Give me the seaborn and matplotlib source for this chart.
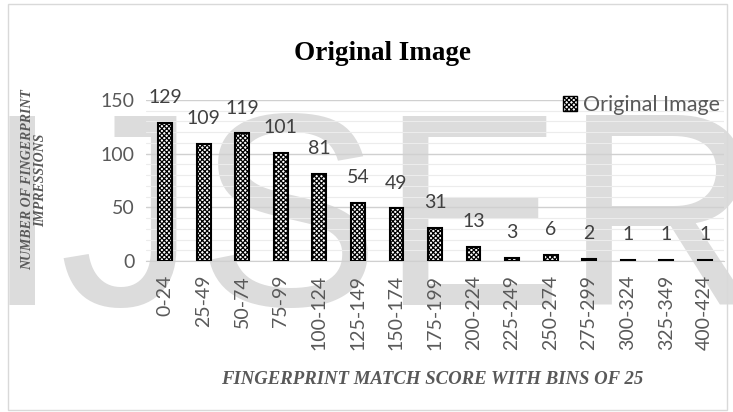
import matplotlib
matplotlib.use('Agg')
import matplotlib.pyplot as plt
from matplotlib.patches import Patch, Rectangle
from matplotlib.ticker import MultipleLocator
import pandas as pd
import seaborn as sns

# data
bins = ['0-24', '25-49', '50-74', '75-99', '100-124', '125-149', '150-174',
        '175-199', '200-224', '225-249', '250-274', '275-299', '300-324',
        '325-349', '400-424']
counts = [129, 109, 119, 101, 81, 54, 49, 31, 13, 3, 6, 2, 1, 1, 1]
series = 'Original Image'

df = pd.DataFrame({'bin': bins, 'count': counts, 'series': series})

sns.set_style('white')
plt.rcParams['font.family'] = ['Lato', 'DejaVu Sans']
plt.rcParams['hatch.linewidth'] = 0.9
plt.rcParams['hatch.color'] = 'black'

grey = '#595959'
hatch = 'xxxxxxx'

fig = plt.figure(figsize=(7.33, 4.12), dpi=100)

# watermark behind the plot
fig.text(-16 / 733, 1 - 305 / 412, 'IJSER', fontsize=198, family='Liberation Sans',
         color='#dcdcdc', ha='left', va='baseline', zorder=-5)

# outer chart frame
fig.patches.append(Rectangle((8 / 733, 0.005), 1 - 14 / 733, 0.985, transform=fig.transFigure,
                             fill=False, edgecolor='#d9d9d9', lw=1, zorder=-4))

ax = fig.add_axes([146 / 733, 1 - 261 / 412, (724 - 146) / 733, (261 - 100) / 412])
ax.set_facecolor('none')
ax.set_zorder(1)

sns.barplot(data=df, x='bin', y='count', hue='series', ax=ax, width=0.36,
            palette=['white'], edgecolor='black', linewidth=1.5, legend=False, zorder=3)
for p in ax.patches:
    p.set_hatch(hatch)

ax.bar_label(ax.containers[0], padding=12, fontsize=14, color='#404040')

ax.set_ylim(0, 150)
ax.yaxis.set_major_locator(MultipleLocator(50))
ax.yaxis.set_minor_locator(MultipleLocator(10))
ax.grid(axis='y', which='major', color='#d0d0d0', lw=1, zorder=0)
ax.grid(axis='y', which='minor', color='#ececec', lw=0.8, zorder=0)
ax.set_axisbelow(True)
ax.set_xlim(-0.5, len(bins) - 0.5)

for s in ['top', 'right', 'left']:
    ax.spines[s].set_visible(False)
ax.spines['bottom'].set_color('#d0d0d0')

ax.tick_params(axis='both', length=0, labelsize=14, labelcolor=grey)
ax.tick_params(axis='x', rotation=90, pad=10)
ax.tick_params(axis='y', pad=8)

ax.set_xlabel('')
ax.set_ylabel('')

fig.text(34 / 733, 1 - 180 / 412, 'NUMBER OF FINGERPRINT\nIMPRESSIONS', rotation=90,
         ha='center', va='center', family='Liberation Serif', style='italic',
         weight='bold', fontsize=10, color=grey, linespacing=0.95)
fig.text(432 / 733, 1 - 379 / 412, 'FINGERPRINT MATCH SCORE WITH BINS OF 25',
         ha='center', va='center', family='Liberation Serif', style='italic',
         weight='bold', fontsize=13.5, color=grey)
fig.text(382 / 733, 1 - 53 / 412, 'Original Image', ha='center', va='center',
         family='Liberation Serif', weight='bold', fontsize=19.5, color='black')

handle = Patch(facecolor='white', edgecolor='black', hatch=hatch, lw=1)
ax.legend([handle], [series], loc='center left', bbox_to_anchor=(554 / 733, 1 - 105 / 412),
          bbox_transform=fig.transFigure, frameon=False, fontsize=15.5, handlelength=0.65,
          handleheight=0.65, handletextpad=0.3, labelcolor=grey, borderaxespad=0)

fig.savefig('out.png', dpi=100)
